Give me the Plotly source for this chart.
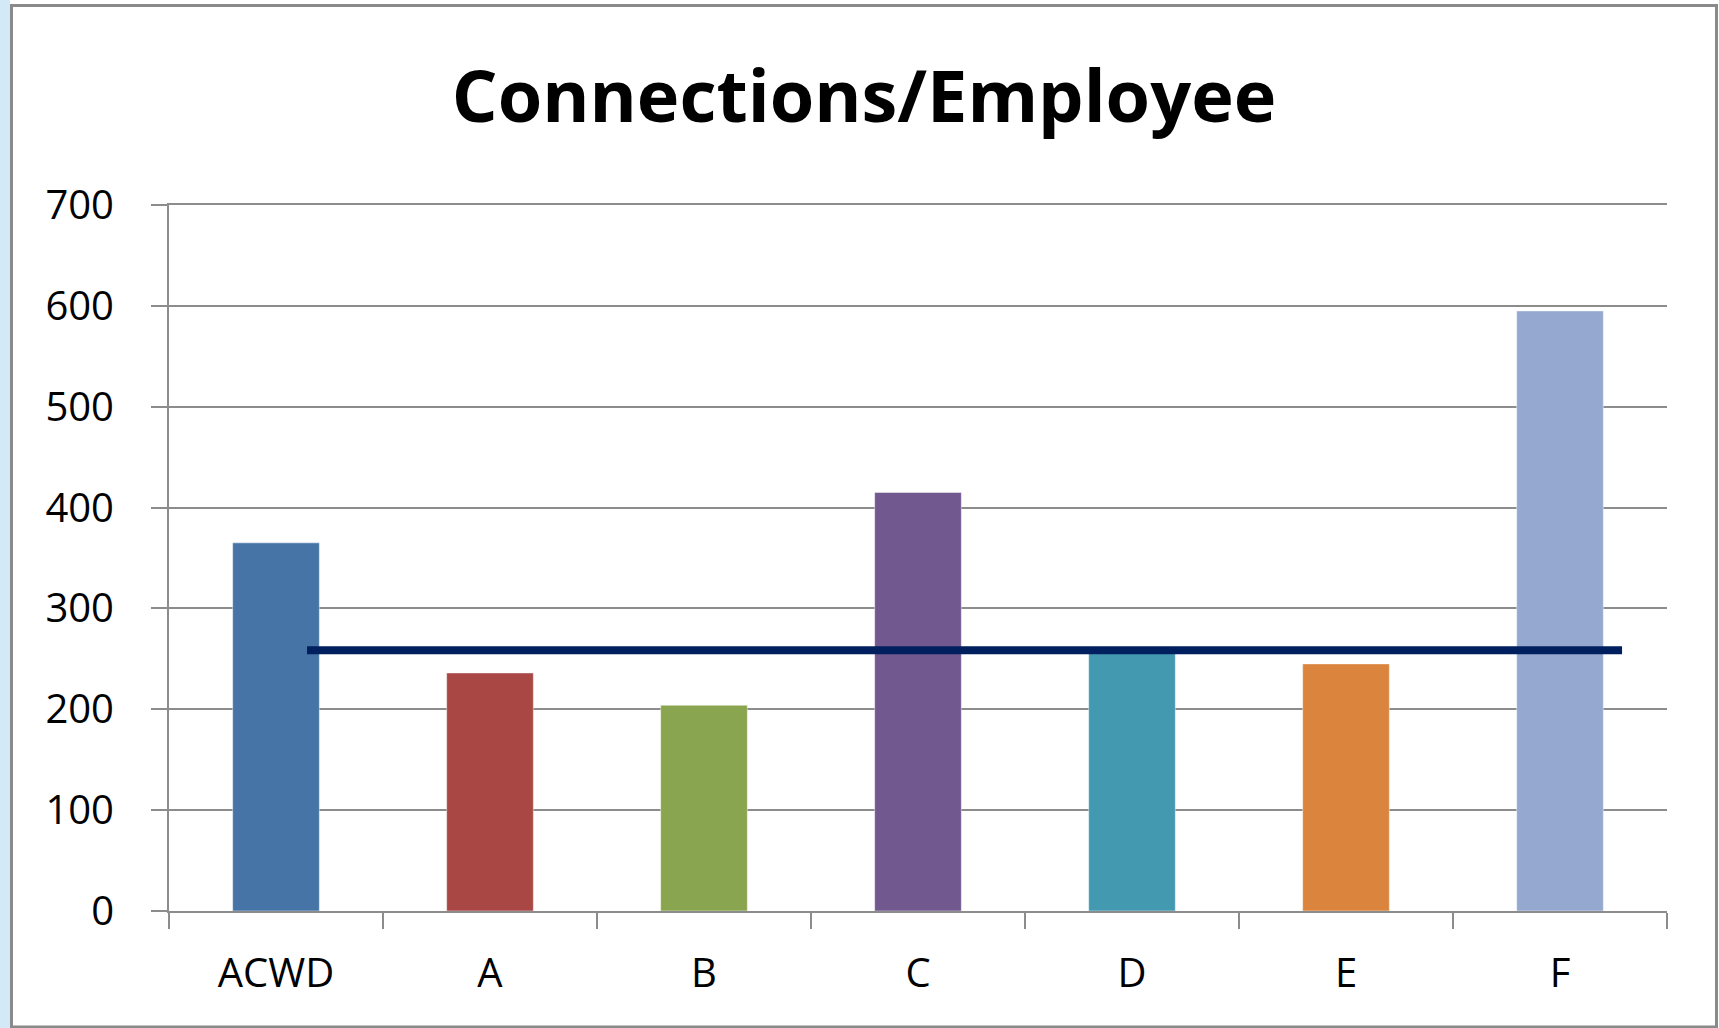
import plotly.graph_objects as go

# ---- data ----
categories = ["ACWD", "A", "B", "C", "D", "E", "F"]
values = [365, 236, 204, 415, 256, 245, 595]
bar_colors = ["#4674A6", "#A84744", "#89A54F", "#71588F", "#4399B0", "#DB843D", "#95A9D0"]
benchmark_value = 258.5
benchmark_span = [0.145, 6.29]  # category-index positions where the benchmark line starts/ends
y_ticks = [0, 100, 200, 300, 400, 500, 600, 700]
title_text = "Connections/Employee"

W, H = 1719, 1028
L, R, T, B = 169, 52, 205, 117
PW, PH = W - L - R, H - T - B
FONT = "Open Sans"
GRID = "#8C8C8C"

fig = go.Figure()

fig.add_trace(go.Bar(
    x=categories,
    y=values,
    width=0.405,
    marker=dict(color=bar_colors, line=dict(color="rgba(255,255,255,0.45)", width=1)),
    showlegend=False,
    hoverinfo="x+y",
))

fig.add_trace(go.Scatter(
    x=benchmark_span,
    y=[benchmark_value] * len(benchmark_span),
    mode="lines",
    line=dict(color="#001F5E", width=8),
    xaxis="x2",
    showlegend=False,
    hoverinfo="y",
))


def px_x(p):
    return (p - L) / PW


def px_y(p):
    return (H - B - p) / PH


shapes = [
    # light-blue slide background strip at the far left
    dict(type="rect", xref="paper", yref="paper", layer="below",
         x0=px_x(0), x1=px_x(10), y0=px_y(H), y1=px_y(0),
         fillcolor="#D3E9F8", line=dict(width=0)),
    # chart frame
    dict(type="rect", xref="paper", yref="paper", layer="above",
         x0=px_x(11.5), x1=px_x(1716.5), y0=px_y(1027), y1=px_y(5.5),
         line=dict(color="#8A8A8A", width=3), fillcolor="rgba(0,0,0,0)"),
]

fig.update_layout(
    width=W, height=H, autosize=False,
    margin=dict(l=L, r=R, t=T, b=B),
    paper_bgcolor="white", plot_bgcolor="white",
    font=dict(family=FONT, size=40, color="#000000"),
    title=dict(
        text="<b>" + title_text + "</b>",
        x=864 / W, xref="container", xanchor="center",
        y=1 - 97 / H, yref="container", yanchor="middle",
        font=dict(family=FONT, size=72, color="#000000"),
    ),
    xaxis=dict(
        type="category",
        categoryorder="array", categoryarray=categories,
        range=[-0.5, 6.5],
        showline=True, linecolor=GRID, linewidth=2, mirror=True,
        ticks="outside", ticklen=16, tickcolor=GRID, tickwidth=2,
        tickson="boundaries",
        showgrid=False, zeroline=False,
        ticklabelstandoff=26,
        tickfont=dict(family=FONT, size=40, color="#000000"),
    ),
    xaxis2=dict(
        overlaying="x", range=[-0.5, 6.5], visible=False,
    ),
    yaxis=dict(
        range=[0, 700], tickvals=y_ticks,
        showline=True, linecolor=GRID, linewidth=2,
        ticks="outside", ticklen=16, tickcolor=GRID, tickwidth=2,
        showgrid=True, gridcolor=GRID, gridwidth=2,
        zeroline=False,
        ticklabelstandoff=29,
        tickfont=dict(family=FONT, size=40, color="#000000"),
    ),
    shapes=shapes,
)

fig.write_html(
    "out.html",
    config={"displayModeBar": False},
    post_script="document.body.style.margin='0';document.body.style.overflow='hidden';",
)
